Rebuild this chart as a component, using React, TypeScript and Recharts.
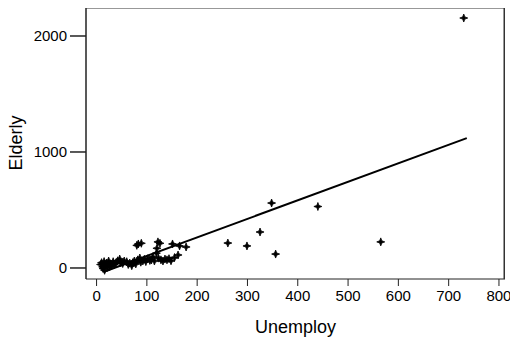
import { ComposedChart, Scatter, XAxis, YAxis, Label } from 'recharts';

// Unemploy (x) vs Elderly (y)
const unemploy = [
  8, 10, 12, 13, 15, 16, 18, 20, 22, 24, 26, 28, 30, 33, 35, 38, 42, 46, 48, 52,
  55, 60, 63, 66, 70, 72, 75, 78, 82, 86, 88, 92, 95, 98, 102, 106, 109, 112, 115, 119,
  123, 128, 132, 136, 140, 144, 148, 155, 162, 178, 83, 89, 122, 126, 151, 165, 80, 120,
  261, 299, 325, 348, 356, 440, 565, 730,
];
const elderly = [
  30, 46, 10, -5, 55, -20, 25, 43, 5, 60, 11, 35, 20, 54, 30, 40, 62, 77, 45, 38,
  60, 54, 30, 42, 20, 46, 60, 35, 70, 86, 50, 60, 75, 55, 80, 65, 69, 95, 60, 128,
  85, 70, 60, 77, 70, 80, 62, 90, 112, 181, 207, 213, 225, 213, 207, 190, 195, 170,
  215, 190, 310, 560, 120, 530, 225, 2155,
];

// fitted line ends
const fitX = [16, 736];
const fitY = [-30, 1120];

const xTicks = [0, 100, 200, 300, 400, 500, 600, 700, 800];
const yTicks = [0, 1000, 2000];
const xMin = -21;
const xMax = 812;
const yMin = -95;
const yMax = 2250;

const points = unemploy.map((x, i) => ({ x, y: elderly[i] }));
const fit = fitX.map((x, i) => ({ x, y: fitY[i] }));
// top and right edges of the plot box, along the axis limits
const frame = [
  { x: xMin, y: yMax },
  { x: xMax, y: yMax },
  { x: xMax, y: yMin },
];

const Star = (props: any) => {
  const { cx, cy } = props;
  if (cx == null || cy == null) return null;
  const r = 4;
  const k = 1.1;
  const d = `M${cx},${cy - r} L${cx + k},${cy - k} L${cx + r},${cy} L${cx + k},${cy + k} L${cx},${cy + r} L${cx - k},${cy + k} L${cx - r},${cy} L${cx - k},${cy - k} Z`;
  return <path d={d} fill="#000" stroke="#000" strokeWidth={0.8} />;
};

const font = 'Liberation Sans, Arial, sans-serif';

export default function App() {
  return (
    <div style={{ marginTop: -8, marginLeft: -8, background: '#fff' }}>
      <ComposedChart width={518} height={339} margin={{ top: 7, right: 13, bottom: 0, left: 26 }}>
        <XAxis
          type="number"
          dataKey="x"
          domain={[xMin, xMax]}
          ticks={xTicks}
          allowDataOverflow
          tickSize={7}
          tickMargin={4}
          height={60}
          stroke="#222"
          tick={{ fill: '#000', fontSize: 15, fontFamily: font }}
        >
          <Label value="Unemploy" position="insideBottom" offset={6} style={{ fill: '#000', fontSize: 18, fontFamily: font }} />
        </XAxis>
        <YAxis
          type="number"
          dataKey="y"
          domain={[yMin, yMax]}
          ticks={yTicks}
          allowDataOverflow
          tickSize={16}
          tickMargin={3}
          width={60}
          stroke="#222"
          strokeWidth={1.5}
          tick={{ fill: '#000', fontSize: 15, fontFamily: font }}
        >
          <Label value="Elderly" angle={-90} position="insideLeft" offset={-10} style={{ fill: '#000', fontSize: 18, fontFamily: font, textAnchor: 'middle' }} />
        </YAxis>
        <Scatter data={frame} line={{ stroke: '#333', strokeWidth: 3 }} shape={() => null} isAnimationActive={false} />
        <Scatter data={points} shape={Star} isAnimationActive={false} />
        <Scatter data={fit} line={{ stroke: '#000', strokeWidth: 2 }} shape={() => null} isAnimationActive={false} />
      </ComposedChart>
    </div>
  );
}
